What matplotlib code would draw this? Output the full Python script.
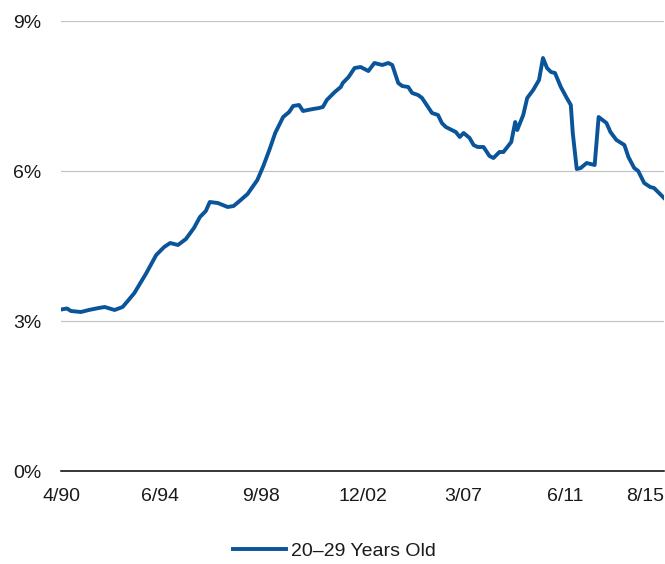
import matplotlib

matplotlib.use("Agg")

import matplotlib.pyplot as plt
import pandas as pd

plt.rcParams["font.family"] = ["Liberation Sans Narrow", "Liberation Sans", "DejaVu Sans"]

# values (share of population, %)
dates = [
    "1990-04", "1990-07", "1990-09", "1991-02", "1991-06", "1991-11", "1992-02", "1992-07",
    "1992-11", "1993-02", "1993-05", "1993-08", "1993-11", "1994-04", "1994-08", "1994-11",
    "1995-03", "1995-07", "1995-11", "1996-02", "1996-05", "1996-07", "1996-11", "1997-04",
    "1997-07", "1997-10", "1998-02", "1998-07", "1998-10", "1999-01", "1999-04", "1999-08",
    "1999-11", "2000-01", "2000-04", "2000-06", "2000-11", "2001-02", "2001-04", "2001-06",
    "2001-10", "2002-01", "2002-02", "2002-05", "2002-08", "2002-11", "2003-03", "2003-06",
    "2003-10", "2004-01", "2004-03", "2004-06", "2004-08", "2004-11", "2005-01", "2005-04",
    "2005-06", "2005-09", "2005-11", "2006-02", "2006-04", "2006-06", "2006-08", "2006-11",
    "2007-01", "2007-03", "2007-06", "2007-08", "2007-10", "2008-01", "2008-04", "2008-06",
    "2008-09", "2008-11", "2009-03", "2009-05", "2009-06", "2009-09", "2009-11", "2010-02",
    "2010-05", "2010-07", "2010-09", "2010-11", "2011-01", "2011-04", "2011-07", "2011-09",
    "2011-10", "2011-12", "2012-02", "2012-05", "2012-09", "2012-11", "2013-03", "2013-05",
    "2013-08", "2013-12", "2014-02", "2014-05", "2014-07", "2014-10", "2015-01", "2015-03",
    "2015-06", "2015-08",
]
share_20_29 = [
    3.23, 3.25, 3.20, 3.18, 3.22, 3.26, 3.28, 3.22,
    3.28, 3.42, 3.56, 3.76, 3.96, 4.32, 4.48, 4.56,
    4.52, 4.64, 4.86, 5.08, 5.20, 5.38, 5.36, 5.28,
    5.30, 5.40, 5.54, 5.82, 6.10, 6.42, 6.76, 7.08,
    7.18, 7.30, 7.32, 7.20, 7.24, 7.26, 7.28, 7.42,
    7.58, 7.68, 7.76, 7.88, 8.06, 8.08, 8.00, 8.16,
    8.12, 8.16, 8.12, 7.76, 7.70, 7.68, 7.56, 7.52,
    7.46, 7.28, 7.16, 7.12, 6.96, 6.88, 6.84, 6.78,
    6.68, 6.76, 6.66, 6.52, 6.48, 6.48, 6.30, 6.26,
    6.38, 6.38, 6.58, 6.98, 6.82, 7.12, 7.46, 7.62,
    7.82, 8.26, 8.06, 7.98, 7.96, 7.68, 7.46, 7.32,
    6.76, 6.04, 6.06, 6.16, 6.12, 7.08, 6.96, 6.78,
    6.62, 6.52, 6.28, 6.06, 6.00, 5.76, 5.68, 5.66,
    5.54, 5.46,
]
tick_dates = ["1990-04", "1994-06", "1998-09", "2002-12", "2007-03", "2011-06", "2015-08"]
tick_labels = ["4/90", "6/94", "9/98", "12/02", "3/07", "6/11", "8/15"]
y_ticks = [0, 3, 6, 9]

x = pd.to_datetime(dates)
xt = pd.to_datetime(tick_dates)

fig = plt.figure(figsize=(6.65, 5.64), dpi=100)
ax = fig.add_axes([61 / 665, 1 - 471 / 564, 603 / 665, 450 / 564])

ax.plot(x, share_20_29, color="#0a5499", linewidth=2.8, solid_joinstyle="round",
        label="20\u201329 Years Old")

ax.set_xlim(xt[0], xt[-1])
ax.set_ylim(0, 9)
ax.set_yticks(y_ticks)
ax.set_yticklabels([f"{v}%" for v in y_ticks])
ax.set_xticks(xt)
ax.set_xticklabels(tick_labels)
ax.get_xticklabels()[-1].set_horizontalalignment("right")

ax.grid(axis="y", color="#c4c4c4", linewidth=0.9)
ax.set_axisbelow(True)
for side in ["top", "right", "left"]:
    ax.spines[side].set_visible(False)
ax.spines["bottom"].set_color("black")
ax.spines["bottom"].set_linewidth(1.1)
ax.spines["bottom"].set_zorder(3)
ax.tick_params(axis="y", length=0, pad=14, labelsize=14, colors="#1a1a1a")
ax.tick_params(axis="x", length=0, pad=12, labelsize=14, colors="#1a1a1a")

fig.legend(loc="lower center", bbox_to_anchor=(0.503, -0.024), frameon=False,
           fontsize=14, handlelength=2.7, handletextpad=0.25, labelcolor="#1a1a1a")

fig.savefig("out.png", dpi=100)
plt.close(fig)
